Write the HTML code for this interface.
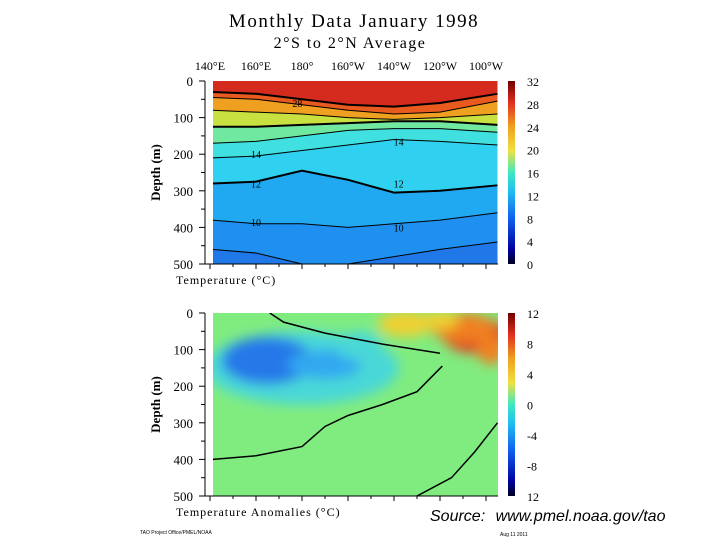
<!DOCTYPE html>
<html><head><meta charset="utf-8"><style>
body{margin:0;background:#fff;}
svg{display:block;font-family:"Liberation Serif",serif;}
</style></head><body>
<svg id="c" width="720" height="540" viewBox="0 0 720 540">
<defs>
<linearGradient id="cbTop" x1="0" y1="1" x2="0" y2="0">
<stop offset="0" stop-color="#000020"/><stop offset="0.08" stop-color="#0000a0"/><stop offset="0.25" stop-color="#1060f0"/><stop offset="0.4" stop-color="#20c0f0"/><stop offset="0.5" stop-color="#40e8c0"/><stop offset="0.62" stop-color="#f0e040"/><stop offset="0.75" stop-color="#f0a020"/><stop offset="0.88" stop-color="#e03020"/><stop offset="1" stop-color="#700000"/>
</linearGradient>
<filter id="blur"><feGaussianBlur stdDeviation="6"/></filter>
<clipPath id="clipB"><rect x="213" y="313" width="285" height="183"/></clipPath>
</defs>
<text x="354" y="27" text-anchor="middle" font-size="19" letter-spacing="1.5">Monthly Data January 1998</text>
<text x="350" y="48" text-anchor="middle" font-size="16" letter-spacing="1.5">2°S to 2°N Average</text>
<g id="topPanel"></g>
<g id="botPanel"></g>
<text x="430" y="521" font-size="16" font-style="italic" word-spacing="6" font-family="Liberation Sans, sans-serif">Source:  www.pmel.noaa.gov/tao</text>
<text x="140" y="534" font-size="5" font-family="Liberation Sans, sans-serif">TAO Project Office/PMEL/NOAA</text>
<text x="500" y="536" font-size="5" font-family="Liberation Sans, sans-serif">Aug 11 2011</text>
</svg>
<script>
const lons=[141,160,180,200,220,240,265];
const isoLevels=[28,26,24,20,16,14,12,10,9];
const d28=[30,35,50,65,70,60,35];
const d26=[45,50,65,80,90,85,55];
const d24=[80,85,90,100,105,100,90];
const d20=[125,125,120,115,110,110,120];
const d16=[170,165,150,135,130,130,140];
const d14=[210,205,190,175,160,165,175];
const d12=[280,275,245,270,305,300,285];
const d10=[380,390,390,400,390,380,360];
const d9=[460,470,510,510,480,460,440];
const isoDepths=[d28,d26,d24,d20,d16,d14,d12,d10,d9];
const bandColors=["#d42b1e","#e85a1e","#f0a020","#c8e040","#70e8a0","#40e0e0","#30d0f0","#20a8f0","#2090f0","#2078e8"];
const lonTicks=[140,160,180,200,220,240,260];
const lonLabels=["140°E","160°E","180°","160°W","140°W","120°W","100°W"];
const depthTicks=[0,100,200,300,400,500];
const cbTopLabels=[0,4,8,12,16,20,24,28,32];
const cbBotLabels=["12","-8","-4","0","4","8","12"];
const cbBotVals=[-12,-8,-4,0,4,8,12];
const labelText=["28","14","14","12","12","10","10"];
const labelLon=[178,160,222,160,222,160,222];
const labelDep=[60,200,165,280,280,385,400];
const blobLon=[180,165,190,205,255,250,262,225,240];
const blobDep=[150,130,140,90,60,40,100,30,20];
const blobRx=[42,20,16,10,14,14,6,12,8];
const blobRy=[100,65,40,40,50,40,40,35,25];
const blobVal=[-1.5,-6,-4,-2,8,5,6,3,4];
const zeroLon=[141,160,180,190,200,215,230,241];
const zeroDep=[400,390,365,310,280,250,215,145];
const zero2Lon=[230,245,255,265];
const zero2Dep=[500,450,380,300];
const zero3Lon=[166,172,190,215,240];
const zero3Dep=[0,25,55,85,110];

const NS="http://www.w3.org/2000/svg";
function el(tag,attrs,parent){const e=document.createElementNS(NS,tag);for(const k in attrs)e.setAttribute(k,attrs[k]);parent.appendChild(e);return e;}
const xs=lon=>210+(lon-140)*2.3;
const ysT=d=>81+d*0.366;
const ysB=d=>313+d*0.366;
const topG=document.getElementById('topPanel'),botG=document.getElementById('botPanel');

function axes(g,ys){
  el('line',{x1:205,y1:ys(0),x2:205,y2:ys(500),stroke:'#000'},g);
  el('line',{x1:205,y1:ys(500),x2:498,y2:ys(500),stroke:'#000'},g);
  for(let d=0;d<=500;d+=50){el('line',{x1:d%100?201:199,y1:ys(d),x2:205,y2:ys(d),stroke:'#000'},g);}
  depthTicks.forEach(d=>{const t=el('text',{x:193,y:ys(d)+5,'text-anchor':'end','font-size':13},g);t.textContent=d;
  
  });
  for(let l=140;l<=265;l+=10){el('line',{x1:xs(l),y1:ys(500),x2:xs(l),y2:ys(500)+(l%20?3:5),stroke:'#000'},g);}
  const yl=el('text',{x:0,y:0,'font-size':13,'font-weight':'bold',transform:`translate(160,${ys(250)}) rotate(-90)`,'text-anchor':'middle'},g);yl.textContent='Depth (m)';
  
  
}
for(let i=0;i<bandColors.length;i++){
  const upper=i===0?lons.map(()=>0):isoDepths[i-1];
  let p='M'+lons.map((l,j)=>xs(l)+','+ysT(Math.min(upper[j],500))).join(' L');
  p+=' L'+xs(265)+','+ysT(500)+' L'+xs(141)+','+ysT(500)+'Z';
  const b=el('path',{d:p,fill:bandColors[i]},topG);
  
  
}
isoDepths.forEach((arr,i)=>{
  const pts=lons.map((l,j)=>xs(l)+','+ysT(Math.min(arr[j],500))).join(' ');
  const c=el('polyline',{points:pts,fill:'none',stroke:'#000','stroke-width':[0,3,6].includes(i)?2:1},topG);
  
  
});
labelText.forEach((s,i)=>{const t=el('text',{x:xs(labelLon[i]),y:ysT(labelDep[i])+4,'font-size':10,'text-anchor':'middle'},topG);t.textContent=s;

});
el('rect',{x:205,y:81,width:8,height:183,fill:'#fff'},topG);
axes(topG,ysT);
lonTicks.forEach((l,i)=>{const t=el('text',{x:xs(l),y:70,'text-anchor':'middle','font-size':12},topG);t.textContent=lonLabels[i];

});
const xt=el('text',{x:176,y:284,'font-size':12,'letter-spacing':1},topG);xt.textContent='Temperature  (°C)';


const cb1=el('rect',{x:508,y:81,width:7,height:183,fill:'url(#cbTop)'},topG);


cbTopLabels.forEach(v=>{const t=el('text',{x:527,y:81+(32-v)/32*183+5,'font-size':12},topG);t.textContent=v;

});

function anomColor(v){
  if(v<=-6)return '#2878e8'; if(v<=-3)return '#30a8f0'; if(v<=-1)return '#48d8d8';
  if(v>=7)return '#e04020'; if(v>=5)return '#f08020'; if(v>=3)return '#f0d030'; return '#c8f060';
}
const bg=el('g',{'clip-path':'url(#clipB)'},botG);
el('rect',{x:213,y:313,width:285,height:183,fill:'#80ec80'},bg);
const bl=el('g',{filter:'url(#blur)'},bg);
blobVal.forEach((v,i)=>{
  const e=el('ellipse',{cx:xs(blobLon[i]),cy:ysB(blobDep[i]),rx:blobRx[i]*2.3,ry:blobRy[i]*0.366,fill:anomColor(v)},bl);
  
  
});
const z1=el('polyline',{points:zeroLon.map((l,i)=>xs(l)+','+ysB(zeroDep[i])).join(' '),fill:'none',stroke:'#000','stroke-width':1.5},bg);


const z2=el('polyline',{points:zero2Lon.map((l,i)=>xs(l)+','+ysB(zero2Dep[i])).join(' '),fill:'none',stroke:'#000','stroke-width':1.5},bg);


const z3=el('polyline',{points:zero3Lon.map((l,i)=>xs(l)+','+ysB(zero3Dep[i])).join(' '),fill:'none',stroke:'#000','stroke-width':1.5},bg);


axes(botG,ysB);
const xt2=el('text',{x:176,y:516,'font-size':12,'letter-spacing':1},botG);xt2.textContent='Temperature Anomalies (°C)';


const cb2=el('rect',{x:508,y:313,width:7,height:183,fill:'url(#cbTop)'},botG);


cbBotVals.forEach((v,i)=>{const t=el('text',{x:527,y:313+(12-v)/24*183+5,'font-size':12},botG);t.textContent=cbBotLabels[i];

});
</script>
</body></html>
